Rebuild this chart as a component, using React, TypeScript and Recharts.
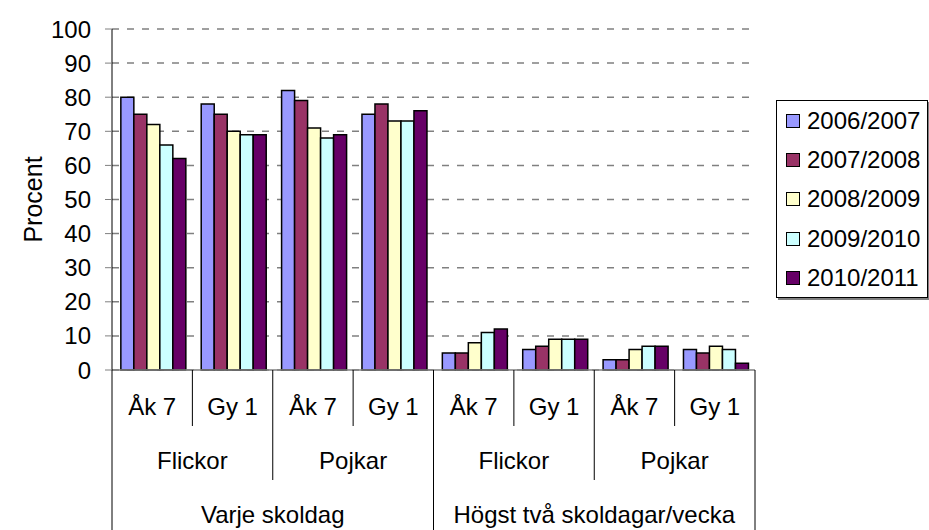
import { BarChart, Bar, XAxis, YAxis, CartesianGrid, Legend, Label } from "recharts";

const grades = ["Åk 7", "Gy 1", "Åk 7", "Gy 1", "Åk 7", "Gy 1", "Åk 7", "Gy 1"];
const genders = ["Flickor", "Pojkar", "Flickor", "Pojkar"];
const frequencies = ["Varje skoldag", "Högst två skoldagar/vecka"];

const seasons = ["2006/2007", "2007/2008", "2008/2009", "2009/2010", "2010/2011"];
const s0607 = [80, 78, 82, 75, 5, 6, 3, 6];
const s0708 = [75, 75, 79, 78, 5, 7, 3, 5];
const s0809 = [72, 70, 71, 73, 8, 9, 6, 7];
const s0910 = [66, 69, 68, 73, 11, 9, 7, 6];
const s1011 = [62, 69, 69, 76, 12, 9, 7, 2];
const seriesValues = [s0607, s0708, s0809, s0910, s1011];
const seriesColors = ["#9999FF", "#993366", "#FFFFCC", "#CCFFFF", "#660066"];
const yTicks = [0, 10, 20, 30, 40, 50, 60, 70, 80, 90, 100];

const data = grades.map((g, i) => {
  const row: Record<string, string | number> = { grade: g, idx: i };
  seasons.forEach((s, k) => {
    row[s] = seriesValues[k][i];
  });
  return row;
});

const W = 929;
const H = 530;
const ML = 0;
const YW = 112;
const MR = 174;
const MT = 29;
const XH = 160;
const BAND = (W - ML - YW - MR) / grades.length;
const FONT = "'Liberation Sans', Arial, sans-serif";
const FS = 24;

// three-level category axis: grade / gender / frequency, with table lines
function HierTick(props: any) {
  const { x, y, payload } = props;
  const i = payload.index;
  const top = y - 8;
  const right = x + BAND / 2;
  const bottom = top + XH;
  let sepEnd = top + 56;
  if ((i + 1) % 4 === 0) sepEnd = bottom;
  else if ((i + 1) % 2 === 0) sepEnd = top + 110;
  return (
    <g>
      <text x={x} y={y + 37} textAnchor="middle" fontSize={FS} fontFamily={FONT} fill="#000">
        {payload.value}
      </text>
      <line x1={right} y1={top} x2={right} y2={sepEnd} stroke="#000" strokeWidth={1} />
      {i === 0 && <line x1={x - BAND / 2} y1={top} x2={x - BAND / 2} y2={bottom} stroke="#000" strokeWidth={1} />}
      {i % 2 === 0 && (
        <text x={right} y={y + 91} textAnchor="middle" fontSize={FS} fontFamily={FONT} fill="#000">
          {genders[i / 2]}
        </text>
      )}
      {i % 4 === 0 && (
        <text x={x + BAND * 1.5} y={y + 145} textAnchor="middle" fontSize={FS} fontFamily={FONT} fill="#000">
          {frequencies[i / 4]}
        </text>
      )}
    </g>
  );
}

function YLabel(props: any) {
  const vb = props.viewBox || { x: 0, y: MT, height: H - MT - XH };
  const cx = 33;
  const cy = vb.y + vb.height / 2;
  return (
    <text
      x={cx}
      y={cy}
      transform={`rotate(-90 ${cx} ${cy})`}
      textAnchor="middle"
      dominantBaseline="central"
      fontSize={25}
      fontFamily={FONT}
      fill="#000"
    >
      Procent
    </text>
  );
}

function LegendBox() {
  return (
    <div
      style={{
        width: 152,
        height: 198,
        border: "1px solid #000",
        boxShadow: "2px 2px 0 #808080",
        background: "#fff",
        boxSizing: "border-box",
        fontFamily: FONT,
        fontSize: FS,
      }}
    >
      {seasons.map((s, k) => (
        <div key={s} style={{ display: "flex", alignItems: "center", height: 39.4, paddingLeft: 9 }}>
          <span
            style={{
              display: "inline-block",
              flex: "none",
              width: 12,
              height: 12,
              border: "1.5px solid #000",
              background: seriesColors[k],
              marginRight: 7,
            }}
          />
          <span style={{ lineHeight: 1, whiteSpace: "nowrap" }}>{s}</span>
        </div>
      ))}
    </div>
  );
}

export default function App() {
  return (
    <div style={{ position: "absolute", left: 0, top: 0, width: W, height: H, background: "#fff" }}>
      <BarChart
        width={W}
        height={H}
        data={data}
        margin={{ top: MT, right: MR, bottom: 0, left: ML }}
        barGap={0}
        barCategoryGap="11%"
      >
        <CartesianGrid vertical={false} stroke="#808080" strokeWidth={1.5} strokeDasharray="7 8" />
        <XAxis
          dataKey="grade"
          interval={0}
          height={XH}
          tick={<HierTick />}
          tickLine={false}
          axisLine={{ stroke: "#808080", strokeWidth: 1.5 }}
        />
        <YAxis
          width={YW}
          domain={[0, 100]}
          ticks={yTicks}
          interval={0}
          tickSize={7}
          tickMargin={14}
          tick={{ fontSize: FS, fontFamily: FONT, fill: "#000" }}
          tickLine={{ stroke: "#808080" }}
          axisLine={{ stroke: "#000" }}
        >
          <Label content={<YLabel />} />
        </YAxis>
        <Legend
          layout="vertical"
          align="center"
          verticalAlign="middle"
          content={<LegendBox />}
          wrapperStyle={{ left: 776, top: 100, width: 154 }}
        />
        {seasons.map((s, k) => (
          <Bar
            key={s}
            dataKey={s}
            fill={seriesColors[k]}
            stroke="#000"
            strokeWidth={1.5}
            isAnimationActive={false}
          />
        ))}
      </BarChart>
    </div>
  );
}
